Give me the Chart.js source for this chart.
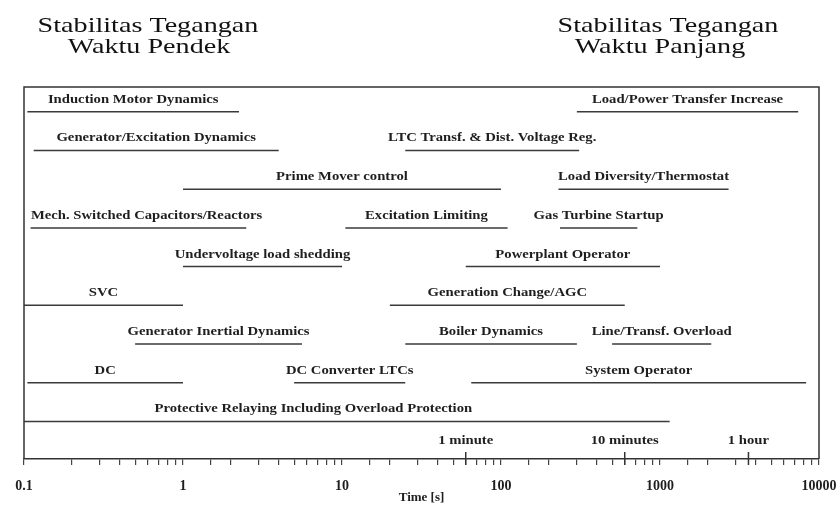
<!DOCTYPE html>
<html>
<head>
<meta charset="utf-8">
<script src="https://cdn.jsdelivr.net/npm/chart.js@4.4.1/dist/chart.umd.min.js"></script>
<style>
  html, body { margin: 0; padding: 0; background: #fff; }
  #wrap { position: relative; width: 840px; height: 506px; }
</style>
</head>
<body>
<div id="wrap"><canvas id="timeChart" width="840" height="506"></canvas></div>
<script>
// phenomena and the time range (seconds) each one covers
var phenomena = [
  'Induction Motor Dynamics', 'Load/Power Transfer Increase',
  'Generator/Excitation Dynamics', 'LTC Transf. & Dist. Voltage Reg.',
  'Prime Mover control', 'Load Diversity/Thermostat',
  'Mech. Switched Capacitors/Reactors', 'Excitation Limiting', 'Gas Turbine Startup',
  'Undervoltage load shedding', 'Powerplant Operator',
  'SVC', 'Generation Change/AGC',
  'Generator Inertial Dynamics', 'Boiler Dynamics', 'Line/Transf. Overload',
  'DC', 'DC Converter LTCs', 'System Operator',
  'Protective Relaying Including Overload Protection'
];
var rowIndex   = [0, 0, 1, 1, 2, 2, 3, 3, 3, 4, 4, 5, 5, 6, 6, 6, 7, 7, 7, 8];
var startTimes = [0.105, 300, 0.115, 25, 1, 230, 0.11, 10.5, 235, 1, 60, 0.1, 20, 0.5, 25, 500, 0.105, 5, 65, 0.1];
var endTimes   = [2.25, 7400, 4, 310, 100, 2700, 2.5, 110, 720, 10, 1000, 1, 600, 5.6, 300, 2100, 1, 25, 8300, 1150];
// where the label sits when it is not centred on its line (null = centred)
var labelTimes = [null, null, null, null, null, null, 0.59, null, null, null, null, null, null, null, null, null, null, null, null, 6.6];

var majorTicks = [0.1, 1, 10, 100, 1000, 10000];
var markerLabels = ['1 minute', '10 minutes', '1 hour'];
var markerTimes = [60, 600, 3600];
var headerLeft = ['Stabilitas Tegangan', 'Waktu Pendek'];
var headerRight = ['Stabilitas Tegangan', 'Waktu Panjang'];

var SERIF = '"Liberation Serif", "Times New Roman", serif';
var INK = '#1e1e1e';

function wideText(ctx, text, cx, baseY, sx) {
  ctx.save();
  ctx.translate(cx, baseY);
  ctx.scale(sx, 1);
  ctx.fillText(text, 0, 0);
  ctx.restore();
}

var annotate = {
  id: 'annotate',
  afterDraw: function(chart) {
    var ctx = chart.ctx;
    var xs = chart.scales.x, ys = chart.scales.y, area = chart.chartArea;
    ctx.save();

    // frame (left, top, right)
    ctx.strokeStyle = '#333';
    ctx.lineWidth = 1.5;
    ctx.beginPath();
    ctx.moveTo(area.left, area.bottom);
    ctx.lineTo(area.left, area.top);
    ctx.lineTo(area.right, area.top);
    ctx.lineTo(area.right, area.bottom);
    ctx.stroke();

    ctx.fillStyle = INK;
    ctx.textAlign = 'center';
    ctx.textBaseline = 'alphabetic';

    // phenomenon labels above their lines
    ctx.font = 'bold 13px ' + SERIF;
    for (var i = 0; i < phenomena.length; i++) {
      var t = labelTimes[i] !== null ? labelTimes[i] : Math.sqrt(startTimes[i] * endTimes[i]);
      wideText(ctx, phenomena[i], xs.getPixelForValue(t), ys.getPixelForValue(rowIndex[i]) - 9, 1.13);
    }

    // minute / hour markers
    for (var j = 0; j < markerTimes.length; j++) {
      var mx = xs.getPixelForValue(markerTimes[j]);
      ctx.beginPath();
      ctx.moveTo(mx, area.bottom - 7);
      ctx.lineTo(mx, area.bottom + 6);
      ctx.stroke();
      wideText(ctx, markerLabels[j], mx, area.bottom - 15, 1.13);
    }

    // headers
    ctx.fillStyle = '#111';
    ctx.font = '21px ' + SERIF;
    wideText(ctx, headerLeft[0], 148, 32, 1.34);
    wideText(ctx, headerLeft[1], 149, 53, 1.34);
    wideText(ctx, headerRight[0], 668, 32, 1.34);
    wideText(ctx, headerRight[1], 660, 53, 1.34);

    ctx.restore();
  }
};

var datasets = phenomena.map(function(name, i) {
  return {
    label: name,
    data: [{ x: startTimes[i], y: rowIndex[i] }, { x: endTimes[i], y: rowIndex[i] }],
    borderColor: '#3a3a3a',
    borderWidth: 1.5,
    pointRadius: 0,
    fill: false
  };
});

new Chart(document.getElementById('timeChart').getContext('2d'), {
  type: 'line',
  data: { datasets: datasets },
  plugins: [annotate],
  options: {
    responsive: false,
    animation: false,
    layout: { padding: { left: 24, right: 21, top: 87, bottom: 0 } },
    plugins: { legend: { display: false }, tooltip: { enabled: false } },
    scales: {
      x: {
        type: 'logarithmic',
        min: 0.1,
        max: 10000,
        afterFit: function(scale) {
          scale.height = 47;
          scale.paddingLeft = 0;
          scale.paddingRight = 0;
        },
        border: { color: '#333', width: 1.5 },
        grid: { drawOnChartArea: false, drawTicks: true, tickLength: 6, color: '#444', lineWidth: 1.2 },
        ticks: {
          autoSkip: false,
          maxRotation: 0,
          padding: 13,
          color: INK,
          font: { family: SERIF, size: 14, weight: 'bold' },
          callback: function(v) {
            for (var k = 0; k < majorTicks.length; k++) {
              if (Math.abs(v - majorTicks[k]) < majorTicks[k] * 1e-6) return String(majorTicks[k]);
            }
            return '';
          }
        },
        title: {
          display: true,
          text: 'Time [s]',
          color: INK,
          font: { family: SERIF, size: 13, weight: 'bold' },
          padding: { top: 0, bottom: 1 }
        }
      },
      y: {
        type: 'linear',
        display: false,
        reverse: true,
        min: -0.64,
        max: 8.97
      }
    }
  }
});
</script>
</body>
</html>
